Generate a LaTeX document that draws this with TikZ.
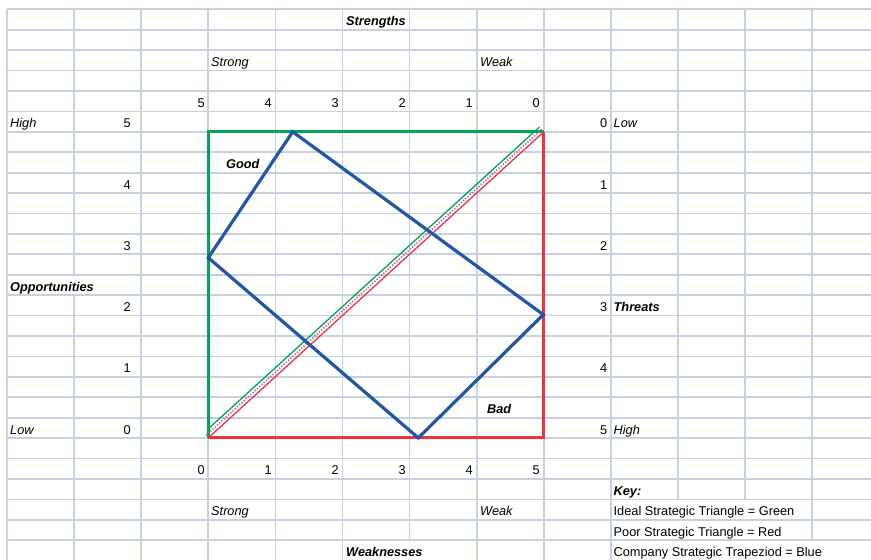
\documentclass[tikz,border=0pt]{standalone}
\usepackage{fontspec}
\setmainfont{Liberation Sans}
\definecolor{gridc}{RGB}{198,208,224}
\definecolor{goodgreen}{RGB}{0,166,81}
\definecolor{badred}{RGB}{238,52,58}
\definecolor{coblue}{RGB}{33,87,165}
\definecolor{dotpink}{RGB}{190,80,175}
\begin{document}
\begin{tikzpicture}[x=1pt,y=-1pt,
  font=\fontsize{12.75}{15}\selectfont,
  gridline/.style={draw=gridc, line width=1.7pt},
  plain/.style={inner sep=0pt, anchor=base west},
  num/.style={inner sep=0pt, anchor=base east},
  ital/.style={plain, font=\fontsize{12.75}{15}\selectfont\itshape},
  bital/.style={plain, font=\fontsize{12.75}{15}\selectfont\bfseries\itshape},
  thick line/.style={line width=3pt},
  thin line/.style={line width=1.3pt}]
\useasboundingbox (0,0) rectangle (871,560);
% ---------- spreadsheet grid ----------
\foreach \j in {0,...,26}
  \draw[gridline] (7,{9.3+20.42*\j}) -- (871,{9.3+20.42*\j});
\foreach \i in {0,2,3,4,5,7,8,9}
  \draw[gridline] ({7+67.1*\i},9.3) -- ({7+67.1*\i},561);
\draw[gridline] (74.1,9.3) -- (74.1,274.8);
\draw[gridline] (74.1,295.2) -- (74.1,561);
\draw[gridline] (409.6,9.3) -- (409.6,540.1);
\draw[gridline] (678,9.3) -- (678,499.3);
\draw[gridline] (745.1,9.3) -- (745.1,499.3);
\draw[gridline] (812.2,9.3) -- (812.2,540.1);
% ---------- chart ----------
\coordinate (bl) at (208.3,437.9);
\coordinate (tl) at (208.3,131.8);
\coordinate (tr) at (543.8,131.8);
\coordinate (br) at (543.8,437.9);
\coordinate (gs) at (207,430);
\coordinate (ge) at (539.5,127);
\coordinate (ds) at (206.0,435.4);
\coordinate (de) at (541.6,129.3);
\coordinate (b1) at (292.7,131.8);
\coordinate (b2) at (543.3,314.6);
\coordinate (b3) at (418.3,437.9);
\coordinate (b4) at (208.3,257.7);
\draw[goodgreen, thick line] (bl) -- (tl) -- (tr);
\draw[badred, thick line] (tr) -- (br) -- (bl);
\draw[goodgreen, thin line] (gs) -- (ge);
\draw[dotpink, line width=1.6pt, dash pattern=on 1.2pt off 1.8pt] (ds) -- (de);
\draw[badred, thin line] (bl) -- (tr);
\draw[coblue, line width=3.2pt, line join=miter] (b1) -- (b2) -- (b3) -- (b4) -- cycle;
% ---------- texts ----------
\node[bital] (strengths) at (346,25.7) {Strengths};
\node[ital] (strongT) at (211,66.6) {Strong};
\node[ital] (weakT) at (480,66.6) {Weak};
\node[num] (t5) at (205,107.4) {5};
\node[num] (t4) at (272,107.4) {4};
\node[num] (t3) at (339,107.4) {3};
\node[num] (t2) at (406,107.4) {2};
\node[num] (t1) at (473,107.4) {1};
\node[num] (t0) at (540,107.4) {0};
\node[ital] (highL) at (10,127.8) {High};
\node[num] (l5) at (131,127.8) {5};
\node[num] (r0) at (607.5,127.8) {0};
\node[ital] (lowR) at (613.5,127.8) {Low};
\node[bital] (good) at (226,168.7) {Good};
\node[num] (l4) at (131,189.1) {4};
\node[num] (r1) at (607.5,189.1) {1};
\node[num] (l3) at (131,250.3) {3};
\node[num] (r2) at (607.5,250.3) {2};
\node[bital] (opp) at (10,291.2) {Opportunities};
\node[num] (l2) at (131,311.6) {2};
\node[num] (r3) at (607.5,311.6) {3};
\node[bital] (threats) at (613.5,311.6) {Threats};
\node[num] (l1) at (131,372.8) {1};
\node[num] (r4) at (607.5,372.8) {4};
\node[bital] (bad) at (487,413.7) {Bad};
\node[ital] (lowL) at (10,434.1) {Low};
\node[num] (l0) at (131,434.1) {0};
\node[num] (r5) at (607.5,434.1) {5};
\node[ital] (highR) at (613.5,434.1) {High};
\node[num] (u0) at (205,474.9) {0};
\node[num] (u1) at (272,474.9) {1};
\node[num] (u2) at (339,474.9) {2};
\node[num] (u3) at (406,474.9) {3};
\node[num] (u4) at (473,474.9) {4};
\node[num] (u5) at (540,474.9) {5};
\node[bital] (key) at (613.5,495.3) {Key:};
\node[ital] (strongB) at (211,515.7) {Strong};
\node[ital] (weakB) at (480,515.7) {Weak};
\node[plain] (k1) at (613.5,515.7) {Ideal Strategic Triangle = Green};
\node[plain] (k2) at (613.5,536.1) {Poor Strategic Triangle = Red};
\node[bital] (weaknesses) at (346,556.5) {Weaknesses};
\node[plain] (k3) at (613.5,556.5) {Company Strategic Trapeziod = Blue};
\end{tikzpicture}
\end{document}
